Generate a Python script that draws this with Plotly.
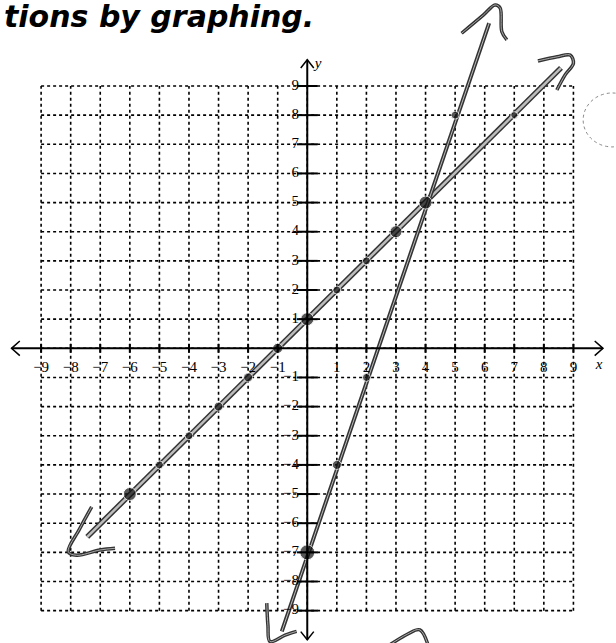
import plotly.graph_objects as go

# grid / axis extent
grid_vals = list(range(-9, 10))
tick_vals = [v for v in grid_vals if v != 0]

# solution lines (hand drawn) : y = x + 1  and  y = 3x - 7
line1_x = [-7.44, 8.58]
line1_y = [-6.47, 9.62]
line2_x = [-0.86, 6.15]
line2_y = [-9.71, 11.16]

# hand drawn arrow hooks
hook1_top_x = [7.80, 8.45, 8.89, 9.0, 8.72, 8.44]
hook1_top_y = [9.86, 10.0, 10.06, 9.78, 9.38, 8.86]
hook1_bot_x = [-7.29, -7.7, -8.08, -7.80, -7.01, -6.50]
hook1_bot_y = [-5.44, -6.2, -6.98, -7.10, -6.92, -6.86]
hook2_top_x = [5.22, 5.95, 6.35, 6.52, 6.58, 6.75]
hook2_top_y = [10.81, 11.43, 11.78, 11.68, 10.86, 10.58]
hook2_bot_x = [-1.37, -1.33, -1.26, -0.75, -0.36]
hook2_bot_y = [-8.74, -9.50, -10.06, -9.84, -9.71]
stray_x = [2.46, 3.4, 3.81, 4.15]
stray_y = [-10.4, -9.8, -9.66, -10.4]

# plotted points
pts1_x = [-6, -5, -4, -3, -2, -1, 0, 1, 2, 3, 4, 7]
pts1_y = [-5, -4, -3, -2, -1, 0, 1, 2, 3, 4, 5, 8]
pts1_s = [13, 8, 8, 9, 9, 10, 13, 8, 8, 12, 13, 7]
pts2_x = [0, 1, 2, 5]
pts2_y = [-7, -4, -1, 8]
pts2_s = [15, 9, 8, 8]

fig = go.Figure()

shapes = []
dot = dict(color="black", width=1.6, dash="dot")
for v in grid_vals:
    shapes.append(dict(type="line", x0=-9, x1=9, y0=v, y1=v, line=dot, layer="below"))
    shapes.append(dict(type="line", x0=v, x1=v, y0=-9, y1=9, line=dot, layer="below"))
# axes
shapes.append(dict(type="line", x0=-10, x1=10, y0=0, y1=0, line=dict(color="black", width=2)))
shapes.append(dict(type="line", x0=0, x1=0, y0=-10, y1=9.9, line=dict(color="black", width=2)))
# tick marks
for v in tick_vals:
    shapes.append(dict(type="line", x0=-0.35, x1=0.35, y0=v, y1=v, line=dict(color="black", width=2)))
    shapes.append(dict(type="line", x0=v, x1=v, y0=-0.15, y1=0.15, line=dict(color="black", width=2)))
# hole punch mark
shapes.append(dict(type="circle", x0=9.33, x1=11.29, y0=6.91, y1=8.76,
                   line=dict(color="#888", width=1, dash="dot")))
fig.update_layout(shapes=shapes)

# axis arrowheads
arrow_x = [-9.72, -10, -9.72, None, 9.72, 10, 9.72, None, -0.22, 0, 0.22, None, -0.22, 0, 0.22]
arrow_y = [0.25, 0, -0.25, None, 0.25, 0, -0.25, None, 9.62, 9.9, 9.62, None, -9.72, -10, -9.72]
fig.add_trace(go.Scatter(x=arrow_x, y=arrow_y, mode="lines",
                         line=dict(color="black", width=1.5), hoverinfo="skip"))


def sketch(xs, ys, w):
    fig.add_trace(go.Scatter(x=xs, y=ys, mode="lines",
                             line=dict(color="#333", width=w), hoverinfo="skip"))
    fig.add_trace(go.Scatter(x=xs, y=ys, mode="lines",
                             line=dict(color="#bdbdbd", width=max(w - 3, 1)), hoverinfo="skip"))


sketch(line1_x, line1_y, 5.5)
sketch(line2_x, line2_y, 4)
for hx, hy in [(hook1_top_x, hook1_top_y), (hook1_bot_x, hook1_bot_y),
               (hook2_top_x, hook2_top_y), (hook2_bot_x, hook2_bot_y), (stray_x, stray_y)]:
    fig.add_trace(go.Scatter(x=hx, y=hy, mode="lines", line_shape="spline",
                             line=dict(color="#333", width=3.5), hoverinfo="skip"))
    fig.add_trace(go.Scatter(x=hx, y=hy, mode="lines", line_shape="spline",
                             line=dict(color="#aaa", width=1), hoverinfo="skip"))

fig.add_trace(go.Scatter(x=pts1_x, y=pts1_y, mode="markers",
                         marker=dict(color="#111", size=pts1_s), hoverinfo="skip"))
fig.add_trace(go.Scatter(x=pts2_x, y=pts2_y, mode="markers",
                         marker=dict(color="#111", size=pts2_s), hoverinfo="skip"))

# tick labels
lab = lambda v: ("\u2212" + str(-v)) if v < 0 else str(v)
lab_font = dict(family="Liberation Serif", size=15, color="black")
fig.add_trace(go.Scatter(x=tick_vals, y=[-0.68] * len(tick_vals), mode="text",
                         text=[lab(v) for v in tick_vals], textposition="middle center",
                         textfont=lab_font, hoverinfo="skip"))
fig.add_trace(go.Scatter(x=[-0.28] * len(tick_vals), y=tick_vals, mode="text",
                         text=[lab(v) for v in tick_vals], textposition="middle left",
                         textfont=lab_font, hoverinfo="skip"))
fig.add_trace(go.Scatter(x=[9.87, 0.37], y=[-0.57, 9.76], mode="text",
                         text=["<i>x</i>", "<i>y</i>"], textposition="middle center",
                         textfont=lab_font, hoverinfo="skip"))

fig.add_annotation(text="<b><i>tions by graphing.</i></b>", xref="paper", yref="paper",
                   x=0.513, y=1.0, xanchor="right", yanchor="top", yshift=3, showarrow=False,
                   font=dict(family="DejaVu Sans", size=30, color="black"))

fig.update_layout(
    width=616, height=643, showlegend=False,
    margin=dict(l=0, r=0, t=0, b=0),
    paper_bgcolor="white", plot_bgcolor="white",
    xaxis=dict(range=[-10.39, 10.44], visible=False, fixedrange=True),
    yaxis=dict(range=[-10.11, 11.95], visible=False, fixedrange=True),
)

# page body has a default 8px margin; drop it so the figure fills the window
fig.write_html("out.html", config={"displayModeBar": False},
               post_script="document.body.style.margin='0';")
